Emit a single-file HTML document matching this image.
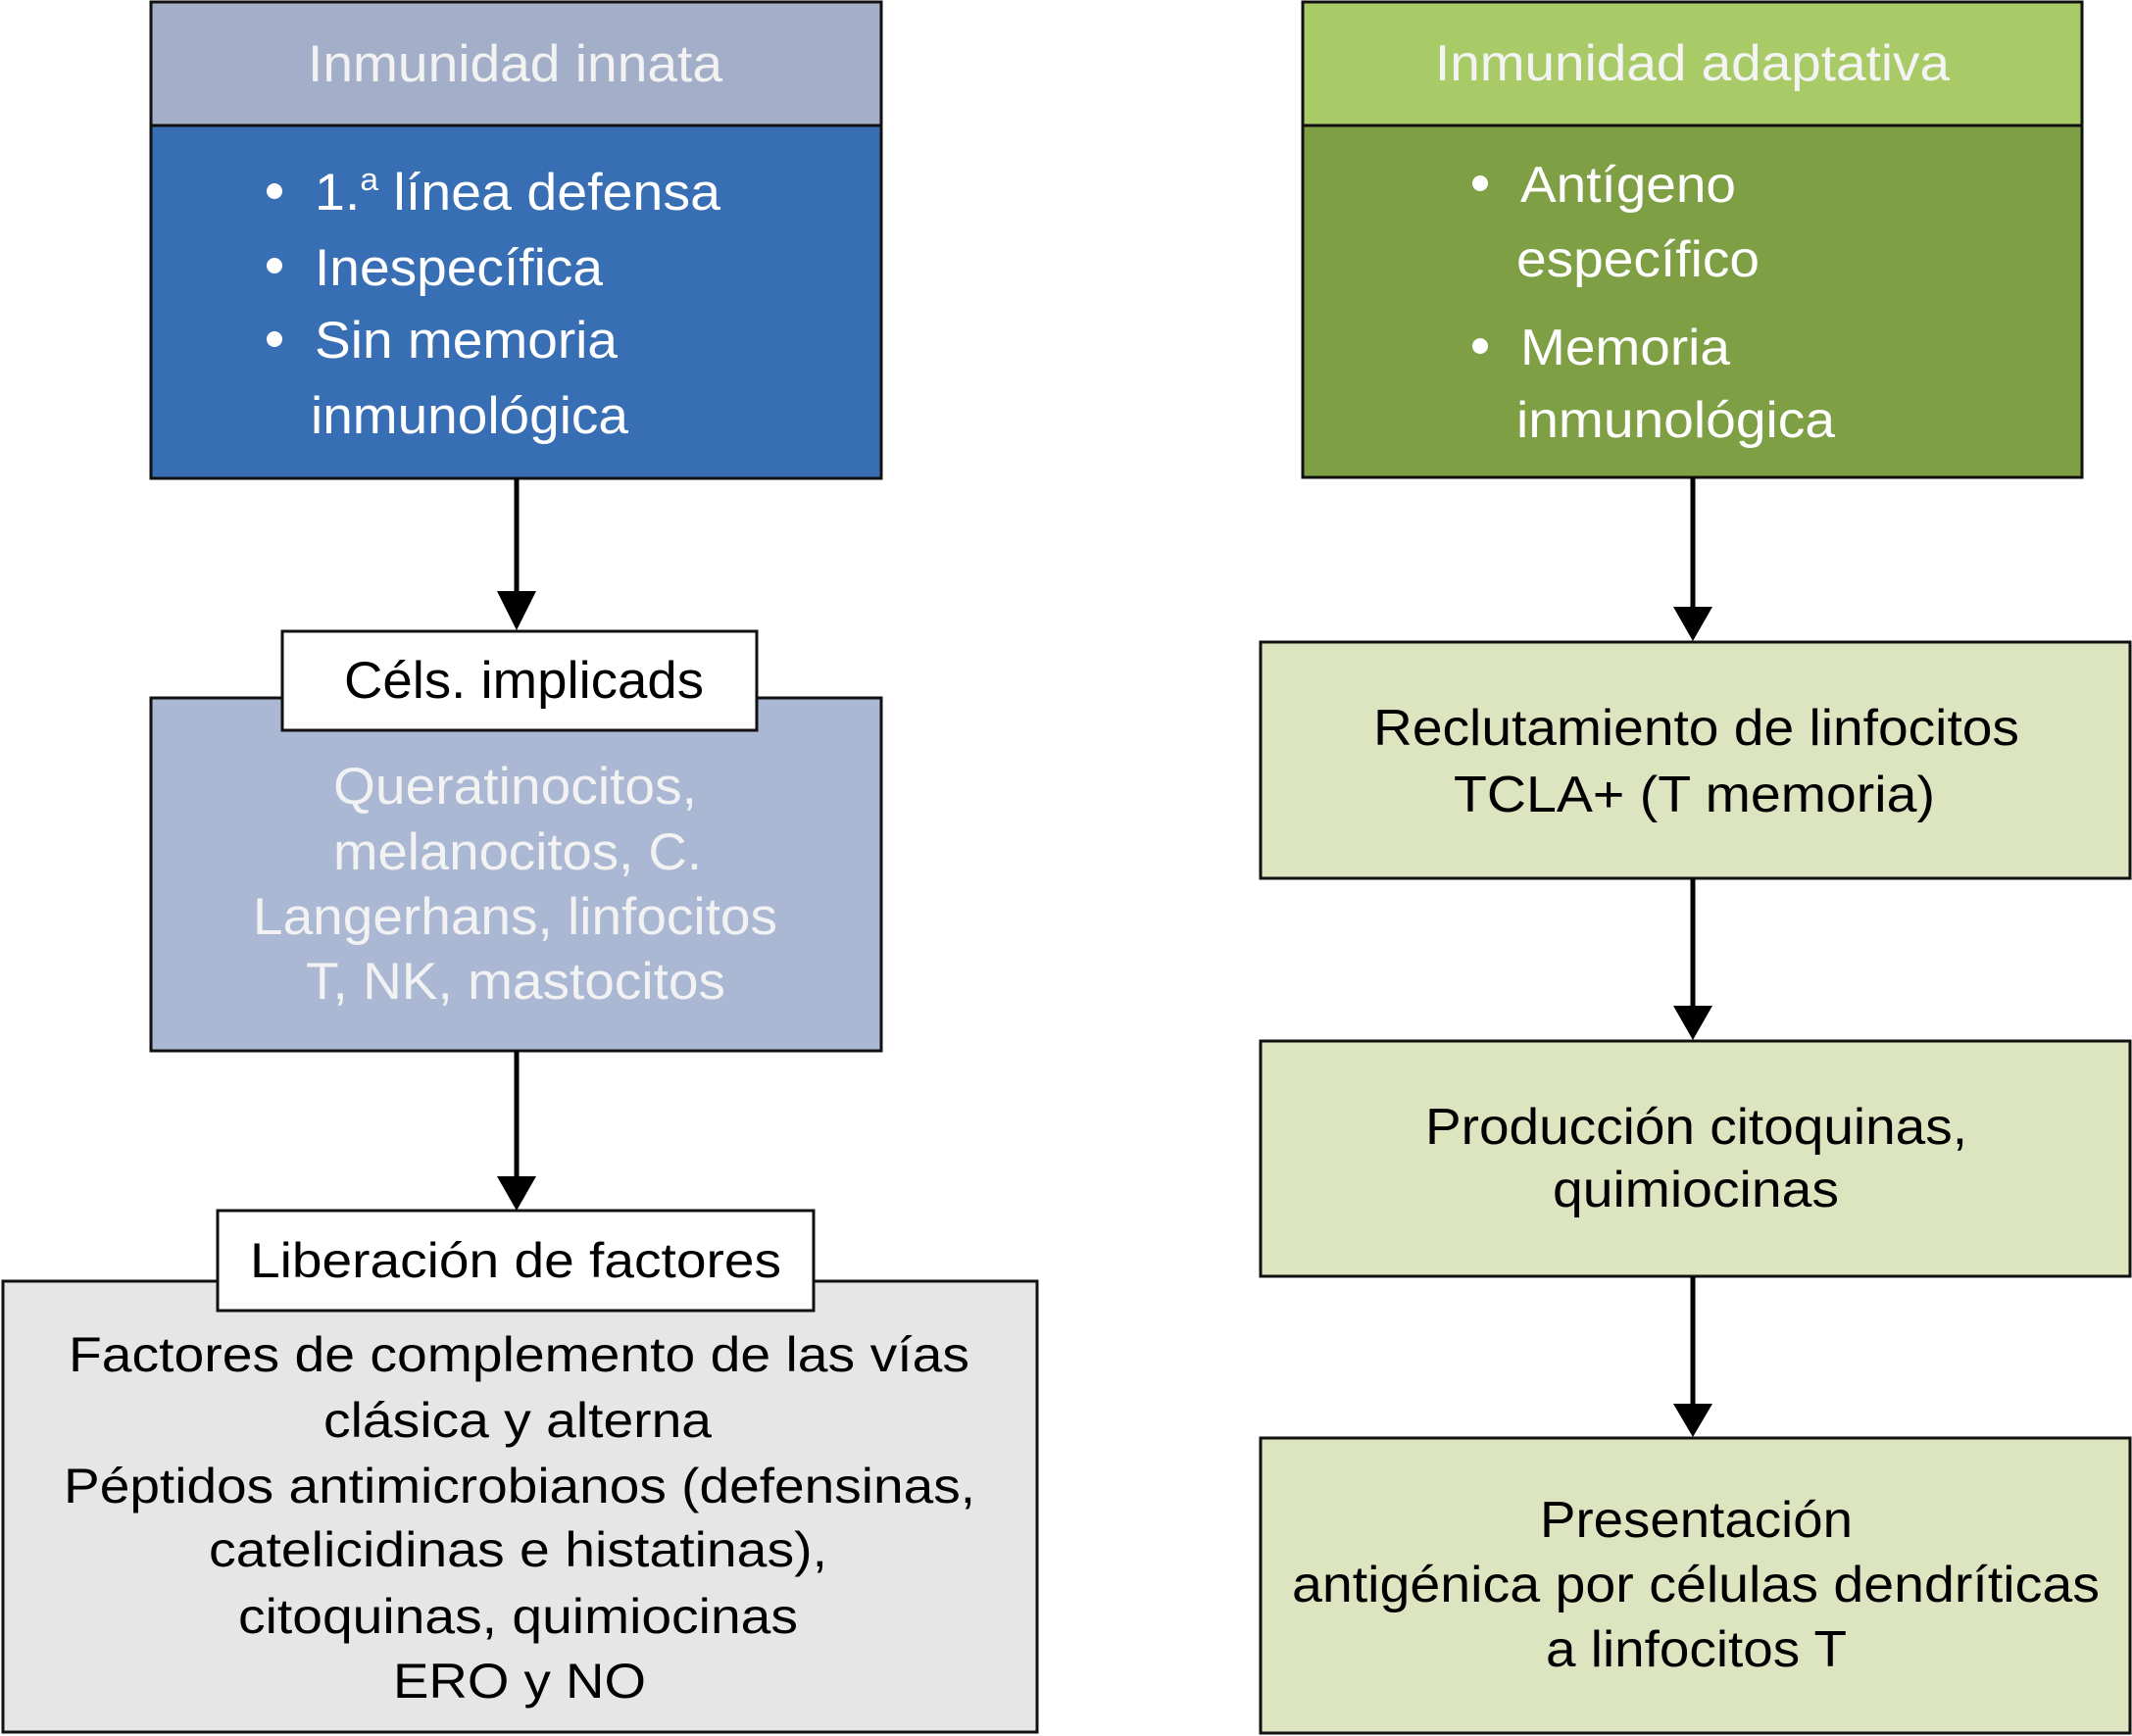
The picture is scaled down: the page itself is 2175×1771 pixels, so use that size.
<!DOCTYPE html>
<html><head><meta charset="utf-8"><style>html,body{margin:0;padding:0;background:#fff}svg{display:block}</style></head>
<body>
<svg width="2175" height="1771" viewBox="0 0 2175 1771" xmlns="http://www.w3.org/2000/svg" font-family="Liberation Sans, sans-serif">
<g stroke="#111" stroke-width="3">
<rect x="154" y="2" width="745" height="126" fill="#a3afc8"/>
<rect x="154" y="128" width="745" height="360" fill="#376eb4"/>
<rect x="154" y="712" width="745" height="360" fill="#aab8d4"/>
<rect x="288" y="644" width="484" height="101" fill="#fff"/>
<rect x="3" y="1307" width="1055" height="460" fill="#e6e6e6"/>
<rect x="222" y="1235" width="608" height="102" fill="#fff"/>
<rect x="1329" y="2" width="795" height="126" fill="#a8cb68"/>
<rect x="1329" y="128" width="795" height="359" fill="#7f9f45"/>
<rect x="1286" y="655" width="887" height="241" fill="#dce5c0"/>
<rect x="1286" y="1062" width="887" height="240" fill="#dce5c0"/>
<rect x="1286" y="1467" width="887" height="301" fill="#dce5c0"/>
</g>
<g stroke="#000" stroke-width="5">
<line x1="527" y1="488" x2="527" y2="610"/>
<line x1="527" y1="1072" x2="527" y2="1205"/>
<line x1="1727" y1="487" x2="1727" y2="625"/>
<line x1="1727" y1="896" x2="1727" y2="1032"/>
<line x1="1727" y1="1302" x2="1727" y2="1438"/>
</g>
<g fill="#000">
<polygon points="507,603 547,603 527,643"/>
<polygon points="507,1200 547,1200 527,1235"/>
<polygon points="1707,619 1747,619 1727,654"/>
<polygon points="1707,1026 1747,1026 1727,1061"/>
<polygon points="1707,1432 1747,1432 1727,1466"/>
</g>
<g fill="#f2f2f2" font-size="53" lengthAdjust="spacingAndGlyphs">
<text x="314" y="83" textLength="423" lengthAdjust="spacingAndGlyphs">Inmunidad innata</text>
<circle cx="280" cy="195" r="8" fill="#fff"/>
<circle cx="280" cy="271" r="8" fill="#fff"/>
<circle cx="280" cy="346" r="8" fill="#fff"/>
<text x="321" y="214" fill="#fff" textLength="414" lengthAdjust="spacingAndGlyphs">1.<tspan dy="-20" font-size="32">a</tspan><tspan dy="20"> línea defensa</tspan></text>
<text x="321" y="291" fill="#fff" textLength="294" lengthAdjust="spacingAndGlyphs">Inespecífica</text>
<text x="321" y="365" fill="#fff" textLength="309" lengthAdjust="spacingAndGlyphs">Sin memoria</text>
<text x="317" y="442" fill="#fff" textLength="324" lengthAdjust="spacingAndGlyphs">inmunológica</text>
<text x="351" y="712" fill="#000" textLength="367" lengthAdjust="spacingAndGlyphs">Céls. implicads</text>
<text x="340" y="820" textLength="371" lengthAdjust="spacingAndGlyphs">Queratinocitos,</text>
<text x="340" y="887" textLength="376" lengthAdjust="spacingAndGlyphs">melanocitos, C.</text>
<text x="258" y="953" textLength="535" lengthAdjust="spacingAndGlyphs">Langerhans, linfocitos</text>
<text x="312" y="1019" textLength="428" lengthAdjust="spacingAndGlyphs">T, NK, mastocitos</text>
</g>
<g fill="#000" font-size="50">
<text x="255" y="1303" textLength="542" lengthAdjust="spacingAndGlyphs">Liberación de factores</text>
<text x="70" y="1399" textLength="919" lengthAdjust="spacingAndGlyphs">Factores de complemento de las vías</text>
<text x="330" y="1466" textLength="396" lengthAdjust="spacingAndGlyphs">clásica y alterna</text>
<text x="65" y="1533" textLength="930" lengthAdjust="spacingAndGlyphs">Péptidos antimicrobianos (defensinas,</text>
<text x="213" y="1598" textLength="631" lengthAdjust="spacingAndGlyphs">catelicidinas e histatinas),</text>
<text x="243" y="1666" textLength="571" lengthAdjust="spacingAndGlyphs">citoquinas, quimiocinas</text>
<text x="401" y="1732" textLength="258" lengthAdjust="spacingAndGlyphs">ERO y NO</text>
</g>
<g fill="#f4f4f4" font-size="52">
<text x="1464" y="82" textLength="525" lengthAdjust="spacingAndGlyphs">Inmunidad adaptativa</text>
<circle cx="1510" cy="187" r="8" fill="#fff"/>
<circle cx="1510" cy="353" r="8" fill="#fff"/>
<text x="1551" y="206" fill="#fff" textLength="220" lengthAdjust="spacingAndGlyphs">Antígeno</text>
<text x="1547" y="282" fill="#fff" textLength="248" lengthAdjust="spacingAndGlyphs">específico</text>
<text x="1551" y="372" fill="#fff" textLength="214" lengthAdjust="spacingAndGlyphs">Memoria</text>
<text x="1547" y="446" fill="#fff" textLength="325" lengthAdjust="spacingAndGlyphs">inmunológica</text>
</g>
<g fill="#000" font-size="52">
<text x="1401" y="760" textLength="659" lengthAdjust="spacingAndGlyphs">Reclutamiento de linfocitos</text>
<text x="1483" y="828" textLength="491" lengthAdjust="spacingAndGlyphs">TCLA+ (T memoria)</text>
<text x="1454" y="1167" textLength="553" lengthAdjust="spacingAndGlyphs">Producción citoquinas,</text>
<text x="1584" y="1231" textLength="292" lengthAdjust="spacingAndGlyphs">quimiocinas</text>
<text x="1571" y="1568" textLength="319" lengthAdjust="spacingAndGlyphs">Presentación</text>
<text x="1318" y="1634" textLength="824" lengthAdjust="spacingAndGlyphs">antigénica por células dendríticas</text>
<text x="1577" y="1700" textLength="307" lengthAdjust="spacingAndGlyphs">a linfocitos T</text>
</g>
</svg>
</body></html>
